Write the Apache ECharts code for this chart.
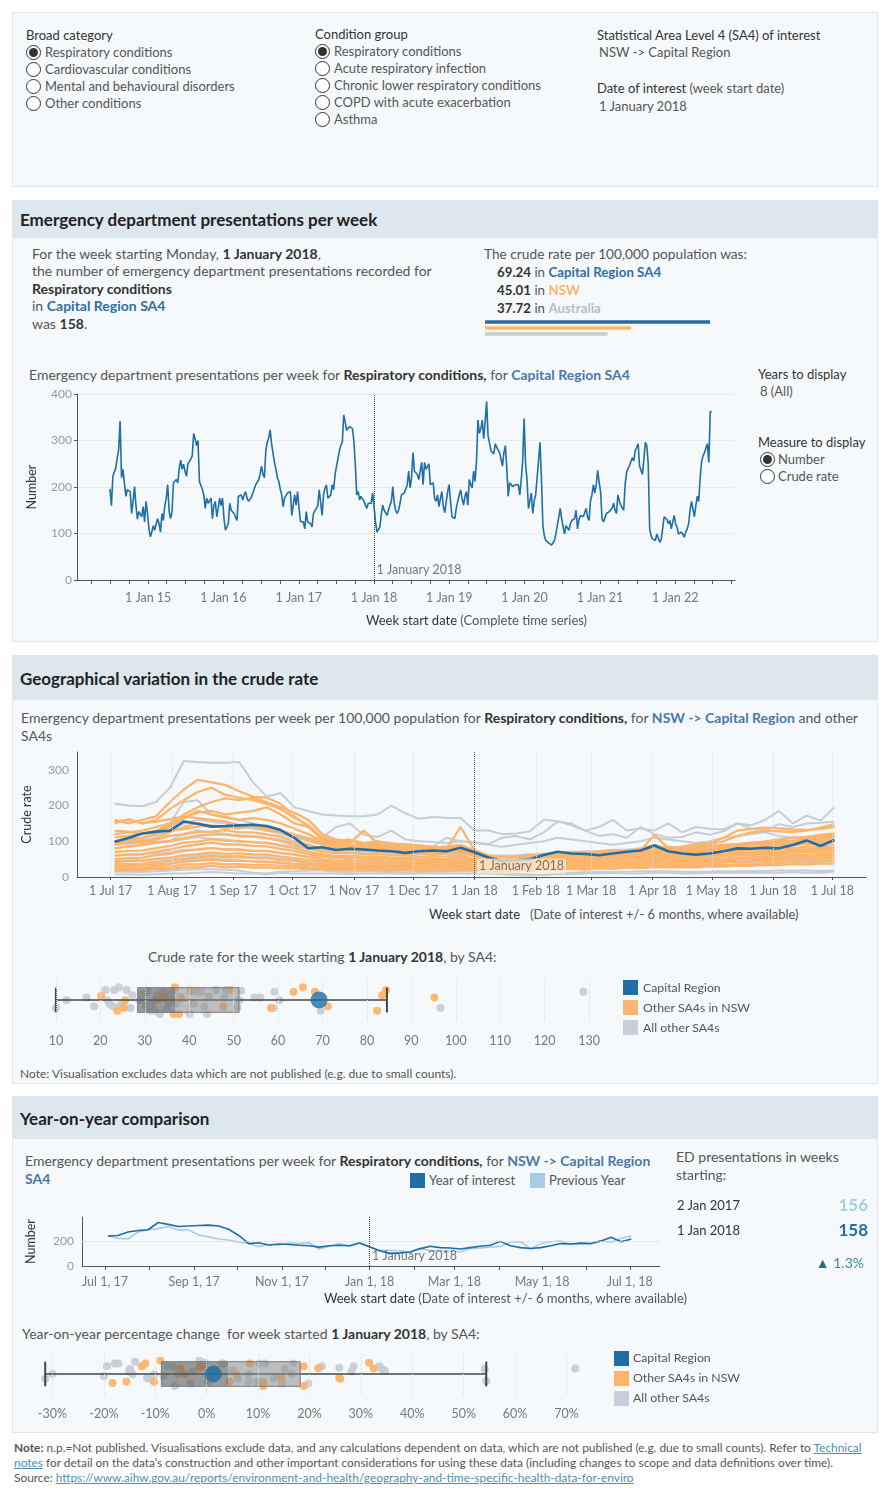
<!DOCTYPE html>
<html>
<head>
<meta charset="utf-8">
<title>Emergency department presentations - Capital Region SA4</title>
<script src="https://cdn.jsdelivr.net/npm/echarts@6/dist/echarts.min.js"></script>
<style>
  body { margin:0; background:#fff; font-family: Lato, "Noto Sans", sans-serif; }
  #page { position:relative; width:890px; height:1500px; overflow:hidden; }
  .panel { position:absolute; left:12px; width:866px; background:#f6f9fb; border:1px solid #e2e5e7; box-sizing:border-box; }
  .head { position:absolute; left:0; top:0; right:0; background:#dce7ee; }
  .head span { position:absolute; left:7px; font-size:17px; line-height:20px; font-weight:bold; color:#222; }
  .t { position:absolute; white-space:nowrap; font-size:13px; line-height:16px; color:#555; }
  .t.m { font-size:14px; }
  .t b { color:#333; }
  .dk { color:#333; }
  .blue { color:#2e6ea6; font-weight:bold; }
  .radio { position:absolute; width:13px; height:13px; border:1px solid #333; border-radius:50%; background:#fff; }
  .radio.on::after { content:''; position:absolute; left:2px; top:2px; width:9px; height:9px; border-radius:50%; background:#333; }
  .chart { position:absolute; }
  .sw { position:absolute; width:15px; height:15px; }
  .foot { position:absolute; left:14px; white-space:nowrap; font-size:11.9px; line-height:14px; color:#555; }
  .foot a { color:#4a90b8; text-decoration:underline; }
</style>
</head>
<body>
<div id="page">

  <!-- filters -->
  <div class="panel" style="top:12px;height:175px;"></div>
  <div class="t dk" style="left:26px;top:27px;">Broad category</div>
  <div class="radio on" style="left:26px;top:45px;"></div><div class="t" style="left:45px;top:44px;">Respiratory conditions</div>
  <div class="radio" style="left:26px;top:62px;"></div><div class="t" style="left:45px;top:61px;">Cardiovascular conditions</div>
  <div class="radio" style="left:26px;top:79px;"></div><div class="t" style="left:45px;top:78px;">Mental and behavioural disorders</div>
  <div class="radio" style="left:26px;top:96px;"></div><div class="t" style="left:45px;top:95px;">Other conditions</div>

  <div class="t dk" style="left:315px;top:26px;">Condition group</div>
  <div class="radio on" style="left:315px;top:44px;"></div><div class="t" style="left:334px;top:43px;">Respiratory conditions</div>
  <div class="radio" style="left:315px;top:61px;"></div><div class="t" style="left:334px;top:60px;">Acute respiratory infection</div>
  <div class="radio" style="left:315px;top:78px;"></div><div class="t" style="left:334px;top:77px;">Chronic lower respiratory conditions</div>
  <div class="radio" style="left:315px;top:95px;"></div><div class="t" style="left:334px;top:94px;">COPD with acute exacerbation</div>
  <div class="radio" style="left:315px;top:112px;"></div><div class="t" style="left:334px;top:111px;">Asthma</div>

  <div class="t dk" style="left:597px;top:27px;">Statistical Area Level 4 (SA4) of interest</div>
  <div class="t" style="left:599px;top:44px;">NSW -&gt; Capital Region</div>
  <div class="t" style="left:597px;top:80px;"><span class="dk">Date of interest</span> (week start date)</div>
  <div class="t" style="left:599px;top:98px;">1 January 2018</div>

  <!-- section 1 -->
  <div class="panel" style="top:200px;height:442px;"><div class="head" style="height:37px;"><span style="top:9px;">Emergency department presentations per week</span></div></div>
  <div class="t m" style="left:32px;top:246px;">For the week starting Monday, <b>1 January 2018</b>,</div>
  <div class="t m" style="left:32px;top:263px;">the number of emergency department presentations recorded for</div>
  <div class="t m" style="left:32px;top:281px;"><b>Respiratory conditions</b></div>
  <div class="t m" style="left:32px;top:298px;">in <span class="blue">Capital Region SA4</span></div>
  <div class="t m" style="left:32px;top:316px;">was <b>158</b>.</div>
  <div class="t" style="left:484px;top:246px;font-size:13.7px;">The crude rate per 100,000 population was:</div>
  <div class="t" style="left:497px;top:264px;font-size:13.3px;"><b>69.24</b> in <span class="blue">Capital Region SA4</span></div>
  <div class="t" style="left:497px;top:282px;font-size:13.3px;"><b>45.01</b> in <span style="color:#fdb46b;font-weight:bold;">NSW</span></div>
  <div class="t" style="left:497px;top:300px;font-size:13.3px;"><b>37.72</b> in <span style="color:#b8bdc2;font-weight:bold;">Australia</span></div>
  <div id="rates" class="chart" style="left:480px;top:316px;width:320px;height:24px;"></div>

  <div class="t m" style="left:29px;top:367px;">Emergency department presentations per week for <b>Respiratory conditions,</b> for <span style="color:#4a78a8;font-weight:bold;">Capital Region SA4</span></div>
  <div class="t dk" style="left:758px;top:366px;">Years to display</div>
  <div class="t" style="left:760px;top:383px;">8 (All)</div>
  <div class="t dk" style="left:758px;top:434px;">Measure to display</div>
  <div class="radio on" style="left:760px;top:452px;"></div><div class="t" style="left:778px;top:451px;">Number</div>
  <div class="radio" style="left:760px;top:469px;"></div><div class="t" style="left:778px;top:468px;">Crude rate</div>
  <div id="c1" class="chart" style="left:0;top:385px;width:890px;height:255px;"></div>
  <div class="t" style="left:366px;top:612px;"><span class="dk">Week start date</span> (Complete time series)</div>

  <!-- section 2 -->
  <div class="panel" style="top:655px;height:429px;"><div class="head" style="height:44px;"><span style="top:13px;">Geographical variation in the crude rate</span></div></div>
  <div class="t m" style="left:21px;top:710px;">Emergency department presentations per week per 100,000 population for <b>Respiratory conditions,</b> for <span style="color:#4a78a8;font-weight:bold;">NSW -&gt; Capital Region</span> and other</div>
  <div class="t m" style="left:21px;top:728px;">SA4s</div>
  <div id="c2" class="chart" style="left:0;top:745px;width:890px;height:160px;"></div>
  <div class="t" style="left:429px;top:906px;"><span class="dk">Week start date</span>&nbsp;&nbsp; (Date of interest +/- 6 months, where available)</div>

  <div class="t m" style="left:148px;top:949px;">Crude rate for the week starting <b>1 January 2018</b>, by SA4:</div>
  <div id="c4" class="chart" style="left:0;top:970px;width:640px;height:85px;"></div>
  <div class="sw" style="left:623px;top:980px;background:#1f6ea8;"></div><div class="t" style="left:643px;top:980px;font-size:12.3px;">Capital Region</div>
  <div class="sw" style="left:623px;top:1000px;background:#fdb46b;"></div><div class="t" style="left:643px;top:1000px;font-size:12.3px;">Other SA4s in NSW</div>
  <div class="sw" style="left:623px;top:1020px;background:#c8cfd8;"></div><div class="t" style="left:643px;top:1020px;font-size:12.3px;">All other SA4s</div>
  <div class="t" style="left:20px;top:1066px;font-size:12px;">Note: Visualisation excludes data which are not published (e.g. due to small counts).</div>

  <!-- section 3 -->
  <div class="panel" style="top:1096px;height:337px;"><div class="head" style="height:42px;"><span style="top:12px;">Year-on-year comparison</span></div></div>
  <div class="t m" style="left:25px;top:1153px;">Emergency department presentations per week for <b>Respiratory conditions,</b> for <span style="color:#4a78a8;font-weight:bold;">NSW -&gt; Capital Region</span></div>
  <div class="t m" style="left:25px;top:1171px;"><span style="color:#4a78a8;font-weight:bold;">SA4</span></div>
  <div class="sw" style="left:410px;top:1173px;background:#1f6ea8;"></div><div class="t" style="left:429px;top:1172px;">Year of interest</div>
  <div class="sw" style="left:530px;top:1173px;background:#a6cde8;"></div><div class="t" style="left:549px;top:1172px;">Previous Year</div>
  <div id="c3" class="chart" style="left:0;top:1205px;width:680px;height:100px;"></div>
  <div class="t" style="left:324px;top:1290px;"><span class="dk">Week start date</span> (Date of interest +/- 6 months, where available)</div>

  <div class="t m" style="left:676px;top:1149px;">ED presentations in weeks</div>
  <div class="t m" style="left:676px;top:1167px;">starting:</div>
  <div class="t dk" style="left:677px;top:1197px;">2 Jan 2017</div>
  <div class="t" style="left:800px;width:68px;text-align:right;top:1195px;font-size:17px;line-height:20px;font-weight:bold;color:#a6cde8;">156</div>
  <div class="t dk" style="left:677px;top:1222px;">1 Jan 2018</div>
  <div class="t" style="left:800px;width:68px;text-align:right;top:1220px;font-size:17px;line-height:20px;font-weight:bold;color:#1f6ea8;">158</div>
  <div class="t m" style="left:780px;width:84px;text-align:right;top:1255px;color:#3a8a99;"><span style="color:#1f6f7f;">&#9650;</span> 1.3%</div>

  <div class="t m" style="left:22px;top:1326px;">Year-on-year percentage change &nbsp;for week started <b>1 January 2018</b>, by SA4:</div>
  <div id="c5" class="chart" style="left:0;top:1344px;width:640px;height:80px;"></div>
  <div class="sw" style="left:614px;top:1351px;background:#1f6ea8;"></div><div class="t" style="left:633px;top:1350px;font-size:12.3px;">Capital Region</div>
  <div class="sw" style="left:614px;top:1371px;background:#fdb46b;"></div><div class="t" style="left:633px;top:1370px;font-size:12.3px;">Other SA4s in NSW</div>
  <div class="sw" style="left:614px;top:1391px;background:#c8cfd8;"></div><div class="t" style="left:633px;top:1390px;font-size:12.3px;">All other SA4s</div>

  <!-- footnote -->
  <div class="foot" style="top:1441px;"><b>Note:</b> n.p.=Not published. Visualisations exclude data, and any calculations dependent on data, which are not published (e.g. due to small counts). Refer to <a>Technical</a></div>
  <div class="foot" style="top:1456px;"><a>notes</a> for detail on the data’s construction and other important considerations for using these data (including changes to scope and data definitions over time).</div>
  <div class="foot" style="top:1471px;">Source: <a>https://www.aihw.gov.au/reports/environment-and-health/geography-and-time-specific-health-data-for-enviro</a></div>
</div>

<script>
const DAY = 86400000;
const MON = ['Jan','Feb','Mar','Apr','May','Jun','Jul','Aug','Sep','Oct','Nov','Dec'];

// crude rate per 100,000 for the week of interest
const rateAreas = ['Capital Region SA4', 'NSW', 'Australia'];
const rateValues = [69.24, 45.01, 37.72];

// weekly ED presentations, Capital Region SA4, first week starts Mon 30 Jun 2014
const weeklyStart = Date.UTC(2014, 5, 30);
const weeklyNumber = [
  196,160,223,232,240,262,280,342,220,238,209,180,194,
  194,190,143,169,201,160,131,147,143,136,158,125,169,
  143,110,93,103,117,107,120,132,121,103,143,128,160,
  176,205,147,132,147,209,205,216,209,240,258,238,249,
  234,223,249,255,260,267,315,304,289,300,212,209,195,
  183,154,176,165,169,176,132,160,169,136,154,176,160,
  176,132,107,114,121,165,150,150,143,139,128,180,183,
  183,172,183,190,176,169,165,178,187,183,205,209,215,
  227,245,227,220,278,296,305,323,293,296,253,238,220,
  212,195,183,158,176,172,187,183,190,139,161,183,161,
  190,156,126,128,125,110,147,125,125,121,114,143,147,
  154,160,194,198,139,183,198,204,176,180,183,205,194,
  227,245,249,278,290,296,355,340,322,326,330,334,326,
  300,249,183,190,172,180,176,169,165,154,165,169,165,
  187,158,125,103,107,114,140,161,150,147,139,150,161,
  169,201,165,150,143,150,165,183,180,187,183,205,234,
  198,220,274,234,234,227,216,216,253,205,253,238,238,
  250,205,207,209,175,169,183,158,175,190,158,145,143,
  190,205,169,136,134,132,155,169,165,194,175,161,180,
  190,161,216,205,198,234,212,256,344,315,325,344,304,
  340,384,311,295,278,275,271,293,285,289,274,260,245,
  274,289,240,180,209,205,201,203,205,201,205,183,215,
  256,347,250,216,154,170,187,143,170,183,187,256,296,
  220,117,95,85,82,80,77,75,74,85,99,117,135,
  154,132,115,99,117,112,107,120,128,128,132,150,110,
  130,139,136,136,145,154,135,128,170,183,205,187,205,
  236,210,190,132,125,121,143,139,147,147,155,165,150,
  143,183,170,161,155,150,205,231,240,245,255,263,256,
  278,285,293,245,242,227,260,296,289,250,110,95,88,
  85,85,99,90,81,88,110,136,139,130,121,128,110,
  125,139,120,114,99,103,103,98,92,103,110,121,150,
  169,165,136,160,180,169,220,255,267,274,274,293,253,
  362,362
];
const weeklyDates = weeklyNumber.map((v, i) => weeklyStart + i * 7 * DAY);

// +/- 6 months window: weeks 3 Jul 2017 .. 2 Jul 2018 (index 157..209 of the weekly series)
const windowFrom = 157, windowTo = 210;
const windowDates = weeklyDates.slice(windowFrom, windowTo);
const yearOfInterest = weeklyNumber.slice(windowFrom, windowTo);
const previousYear = weeklyNumber.slice(windowFrom - 52, windowTo - 52);

// crude rate per 100,000, Capital Region
const capitalRate = [99,109.1,121.8,127.1,129.7,155.6,149.0,141.1,142.8,144.6,146.3,142.8,131.4,109.1,80.2,83.3,75.4,78.9,77.1,74.1,72.3,67.5,72.3,74.1,72.3,81.9,69.2,54.8,45.1,46.9,50.0,61.3,70.5,65.7,64.4,60.9,65.7,70.5,74.1,88.1,72.3,65.7,62.7,65.7,72.3,80.2,78.9,81.9,80.2,89.8,102.5,86.8,104.0];

// crude rate, other SA4s in NSW
const nswRates = [
  [160,150,160,170,210,245,272,265,258,240,225,222,205,170,140,105,98,100,92,88,85,90,82,78,80,84,72,58,52,56,58,62,60,64,66,70,68,74,72,80,84,80,86,92,100,115,125,130,128,126,130,138,148],
  [150,162,150,160,190,215,238,250,230,222,215,205,190,165,145,110,100,105,95,92,90,85,88,82,86,90,75,60,55,58,60,64,66,70,68,72,75,72,80,90,78,85,92,95,110,130,135,138,136,133,132,135,140],
  [120,125,130,140,150,175,195,210,220,215,222,210,195,180,160,120,105,100,95,100,90,92,88,85,80,85,70,55,50,52,55,58,60,58,62,65,62,68,70,75,70,72,78,80,85,90,95,100,105,110,112,118,122],
  [110,115,120,130,145,165,180,185,175,180,185,195,175,150,140,110,100,95,130,95,92,90,85,80,84,86,70,55,52,55,58,60,62,64,66,62,66,70,68,72,74,70,76,80,84,90,92,96,100,102,105,108,115],
  [100,105,110,120,140,165,185,175,168,160,165,160,150,135,120,100,95,90,90,88,84,80,82,78,80,140,75,60,56,58,60,62,64,66,64,68,70,72,74,118,80,78,84,86,90,92,96,98,104,100,110,112,118],
  [155,160,150,155,162,170,165,160,156,145,142,130,126,115,108,95,92,86,88,84,82,80,77,76,79,75,68,55,50,53,52,57,56,61,60,66,63,69,67,74,70,77,74,81,79,85,83,90,88,95,92,98,100],
  [90,96,101,108,126,140,151,144,141,136,143,134,129,119,109,95,91,84,83,79,78,76,71,70,75,72,64,50,45,49,48,53,52,57,56,61,60,65,64,69,73,68,75,78,79,85,87,91,90,95,94,99,101],
  [130,127,121,124,131,134,141,144,137,143,147,139,131,117,104,91,84,81,77,77,73,72,69,68,71,72,59,48,44,47,47,51,52,53,56,57,61,61,65,65,69,69,73,73,77,79,83,85,89,89,93,93,97],
  [80,86,89,96,101,109,116,119,119,114,113,109,101,89,81,71,67,67,64,65,61,61,57,57,58,61,51,45,41,45,45,49,49,53,53,57,57,61,61,65,65,63,69,69,73,73,77,77,81,81,85,85,89],
  [70,73,74,81,87,96,99,106,101,101,97,96,87,81,71,63,59,59,57,57,54,55,51,51,51,56,47,41,37,41,41,45,45,49,49,53,53,56,55,59,59,59,61,65,65,69,69,73,73,77,77,81,81],
  [60,63,64,71,77,86,91,96,91,91,87,86,79,73,64,57,54,55,51,51,49,49,45,46,45,49,41,37,33,37,37,41,41,45,45,49,49,53,53,56,55,56,57,61,61,65,65,69,69,73,73,76,75],
  [50,53,54,61,65,73,77,81,77,77,73,73,67,63,55,49,46,47,44,45,42,43,39,41,41,45,37,35,31,35,35,39,39,43,43,47,45,49,49,53,51,51,53,57,57,61,61,65,65,69,69,71,71],
  [42,45,45,51,54,61,64,69,65,66,63,63,57,53,47,43,39,41,37,39,36,37,34,35,35,39,33,31,27,31,31,35,35,39,39,41,41,45,44,47,45,46,47,51,51,55,55,59,59,63,61,65,65],
  [35,37,37,43,45,51,54,59,55,56,53,53,47,45,39,37,34,35,32,33,31,32,29,31,30,33,29,27,24,27,27,31,31,35,34,37,37,41,39,43,41,41,43,46,45,49,49,53,53,56,55,59,59],
  [28,31,31,35,37,43,45,49,45,46,43,43,39,37,33,31,29,30,27,29,26,27,25,26,25,29,25,25,21,25,24,27,27,31,30,33,33,36,35,38,37,37,37,41,40,43,43,47,47,51,49,53,53],
  [22,25,24,29,29,35,35,39,35,36,33,34,31,31,27,26,24,25,23,24,22,23,21,23,22,25,21,21,18,21,21,24,23,26,25,28,27,30,29,32,31,31,31,34,33,36,35,39,39,42,41,44,44],
  [100,97,96,104,116,119,126,127,131,125,125,119,113,99,91,79,79,75,76,71,71,67,67,63,67,69,59,47,46,47,51,53,57,57,61,61,67,67,71,71,77,73,79,81,87,87,93,94,99,99,105,105,111],
  [18,20,19,23,23,27,27,31,27,29,26,27,24,25,22,22,20,21,19,21,18,20,17,19,18,21,18,19,16,19,18,21,20,23,21,24,23,26,25,28,27,27,27,30,29,32,31,34,33,36,35,38,37]
];

// crude rate, all other SA4s
const otherRates = [
  [205,200,198,210,250,325,322,320,320,322,265,225,235,195,185,175,172,170,170,175,200,178,163,168,166,165,130,130,120,122,128,160,157,145,130,140,160,130,136,130,150,125,140,135,133,150,145,160,185,150,172,158,195],
  [95,100,105,120,150,210,215,175,165,160,150,140,125,110,105,110,140,150,118,112,130,105,100,98,95,100,98,92,110,115,105,125,155,150,130,115,120,110,140,120,110,112,125,118,128,150,135,130,148,140,150,152,155],
  [100,105,110,115,130,150,160,155,150,140,135,130,120,110,100,90,88,86,92,100,95,90,88,85,110,100,95,90,85,90,95,100,110,105,100,95,90,95,100,110,105,100,95,100,110,115,120,125,115,110,112,118,120],
  [80,86,89,96,99,106,111,107,106,99,99,94,91,84,81,74,73,69,71,67,67,64,65,61,65,65,63,57,56,57,61,61,65,65,69,69,73,73,77,77,81,77,83,83,87,87,91,91,95,91,96,97,101],
  [60,63,63,67,69,76,77,81,77,77,73,73,67,63,57,56,53,53,51,51,49,49,47,47,47,51,45,43,39,43,43,47,47,51,49,53,53,56,55,59,57,57,59,63,61,65,65,69,69,71,71,73,73],
  [45,47,47,51,51,57,59,63,59,59,55,56,51,49,44,43,41,41,39,41,37,39,37,37,37,41,37,36,32,36,35,39,39,41,41,43,43,46,45,47,47,47,47,51,49,53,53,56,55,57,57,59,59],
  [15,15,14,16,18,20,22,22,20,18,12,10,15,16,18,18,15,14,16,15,14,13,14,15,15,16,16,15,14,10,8,5,10,12,13,14,14,15,16,16,16,15,14,15,16,16,17,17,18,18,18,17,18],
  [8,7,6,8,10,10,12,14,12,10,10,8,12,10,10,10,10,8,10,10,10,9,10,10,10,10,10,10,8,5,4,6,8,8,10,10,12,10,10,12,12,10,10,12,12,12,12,12,12,14,12,12,15],
  [30,33,33,37,39,45,49,53,49,47,44,43,41,37,35,33,31,31,30,30,28,29,27,28,28,31,28,27,24,26,26,29,29,31,31,33,33,35,35,37,37,37,38,41,40,43,42,45,45,47,46,48,48],
  [90,93,95,99,101,121,131,125,121,117,115,109,105,94,88,81,80,77,76,74,74,71,70,69,72,73,68,61,60,61,64,65,68,69,72,73,76,77,80,81,84,81,86,87,90,91,95,97,100,101,104,104,108]
];

// crude rate by SA4, week of 1 Jan 2018 (inNsw: 1 = other SA4 in NSW, jitter = Tableau jitter field)
const sa4Rate =   [10.0,12.4,16.9,18.6,20.2,21.2,21.6,22.0,22.9,23.1,23.8,24.2,24.6,25.1,25.3,25.6,25.9,26.8,27.2,28.9,29.6,30.2,30.6,31.3,31.7,32.2,32.4,32.8,33.2,33.4,33.9,34.1,34.5,35.0,35.4,35.6,36.0,36.5,36.7,36.8,37.1,37.7,38.0,38.2,40.1,40.4,41.0,41.8,42.7,43.4,44.0,44.4,46.0,47.7,48.0,48.3,49.4,50.9,51.3,51.7,54.7,56.0,58.4,59.0,59.2,60.3,63.5,65.6,68.3,69.6,71.2,82.3,83.4,84.3,95.2,96.6,128.7];
const sa4RateNsw = [0,0,0,0,1,0,0,0,0,0,1,0,0,0,1,1,0,0,0,0,0,0,0,0,0,0,0,0,1,0,1,0,1,0,0,0,0,1,0,1,0,1,0,1,0,1,0,0,0,0,0,0,0,1,0,0,1,0,0,0,0,0,1,0,0,0,1,1,1,0,1,1,1,1,1,0,0];
const sa4RateJitter = [-0.53,-0.02,0.16,-0.41,0.28,0.67,-0.02,-0.25,-0.41,0.67,-0.71,0.85,-0.30,-0.41,-0.53,-0.02,0.67,-0.53,0.32,-0.02,0.44,-0.37,0.55,-0.71,-0.25,-0.71,-0.02,0.32,0.09,-0.94,0.16,0.55,0.16,-0.60,-0.25,0.44,0.09,-0.94,0.67,0.85,-0.25,-0.94,0.21,0.09,-0.94,0.62,-0.25,0.55,0.55,-0.44,-0.94,0.21,0.67,-0.44,0.16,0.67,0.67,-0.48,-0.02,0.62,0.16,0.16,-0.53,-0.53,0.55,-0.02,0.55,0.85,0.55,-0.71,-0.41,-0.71,0.32,0.67,0.16,-0.53,0.55];
const rateBox = [10, 28.4, 36.8, 51.2, 84.5];   // min, q1, median, q3, max
const capitalRateOfInterest = 69.24;

// year-on-year % change by SA4, week of 1 Jan 2018
const sa4Change = [-31.4,-30.0,-20.0,-18.3,-19.4,-17.9,-17.2,-15.6,-15.1,-14.9,-14.4,-13.9,-12.6,-11.6,-11.2,-11.9,-10.2,-10.2,-9.0,-8.4,-7.6,-6.2,-6.5,-5.6,-5.1,-4.2,-3.2,-2.6,-1.4,-1.4,-0.4,-0.9,0.2,1.0,3.0,3.4,4.5,5.0,5.8,6.1,8.2,8.2,8.4,9.8,10.3,11.0,11.0,11.4,13.1,14.5,14.7,15.2,16.6,16.8,18.9,18.9,19.8,21.7,22.4,25.8,26.0,25.8,28.2,28.6,31.6,32.5,33.6,34.1,34.7,54.4,54.1,71.7];
const sa4ChangeNsw = [0,0,0,1,0,0,0,1,0,0,0,0,1,0,0,1,0,1,1,0,0,0,0,0,1,1,0,0,1,0,0,1,0,0,0,0,1,0,1,0,0,0,1,0,0,1,1,0,0,1,0,0,0,0,1,1,0,1,0,1,1,0,0,0,1,1,0,0,0,0,0,0];
const sa4ChangeJitter = [-0.31,0.02,-0.14,-0.60,0.51,0.70,0.70,-0.51,0.17,0.34,-0.02,0.82,0.51,-0.27,-0.31,0.70,-0.02,-0.51,0.89,-0.14,0.51,-0.80,0.46,-0.02,0.39,-0.02,-0.63,0.17,0.41,0.89,0.75,0.51,-0.51,0.10,0.70,0.70,-0.51,0.27,-0.02,-0.31,-0.51,-0.02,0.70,-0.51,0.70,-0.80,-0.51,0.70,-0.27,-0.27,-0.63,0.34,0.02,0.70,-0.80,0.51,-0.63,0.39,0.51,-0.27,-0.31,0.41,0.17,0.51,0.75,0.36,0.51,0.34,0.22,-0.46,0.34,0.36];
const changeBox = [-31.4, -8.8, 4.2, 18.2, 54.4];
const capitalChange = 1.3;

// axis ticks
const yearTicks = [2015,2016,2017,2018,2019,2020,2021,2022].map(y => Date.UTC(y, 0, 1));
const monthTicks = [[2017,6],[2017,7],[2017,8],[2017,9],[2017,10],[2017,11],[2018,0],[2018,1],[2018,2],[2018,3],[2018,4],[2018,5],[2018,6]].map(d => Date.UTC(d[0], d[1], 1));
const yoyLabelTicks = [[2017,6],[2017,8],[2017,10],[2018,0],[2018,2],[2018,4],[2018,6]].map(d => Date.UTC(d[0], d[1], 1));
const rateTicks = [10,20,30,40,50,60,70,80,90,100,110,120,130];
const changeTicks = [-30,-20,-10,0,10,20,30,40,50,60,70];
const dateOfInterest = Date.UTC(2018, 0, 1);

const BLUE = '#1f6ea8', ORANGE = '#fdb46b', GREY = '#c6cdd6', LIGHTBLUE = '#a6cde8';
const FONT = 'Lato';

function dMY(v) { const d = new Date(v); return d.getUTCDate() + ' ' + MON[d.getUTCMonth()] + ' ' + String(d.getUTCFullYear()).slice(2); }
function MDY(v) { const d = new Date(v); return MON[d.getUTCMonth()] + ' ' + d.getUTCDate() + ', ' + String(d.getUTCFullYear()).slice(2); }

const quarterTicks = [];
for (let y = 2014; y <= 2022; y++) for (let m = 0; m < 12; m += 3) quarterTicks.push(Date.UTC(y, m, 1));

function dateLabel(offsetY, bg) {
  return {
    type: 'scatter', data: [[dateOfInterest, 0]], symbolSize: 1, itemStyle: { color: 'rgba(0,0,0,0)' },
    silent: true, clip: false, z: 10,
    label: { show: true, position: [3, offsetY], formatter: '1 January 2018', color: '#555', fontSize: 12.5, fontFamily: FONT,
      backgroundColor: bg || 'transparent', padding: bg ? [1, 2] : 0 }
  };
}

// dates are drawn on value axes holding the week start timestamps
function dateAxis(min, max, tickVals, labelVals, fmt, margin, tickLen) {
  return {
    type: 'value', min: min, max: max,
    axisLine: { lineStyle: { color: '#555' } },
    axisTick: { show: true, customValues: tickVals, length: tickLen, lineStyle: { color: '#555' } },
    axisLabel: { customValues: labelVals, formatter: v => fmt(v), color: '#777', fontSize: 12.5, margin: margin, showMinLabel: true, showMaxLabel: true },
    splitLine: { show: false }
  };
}

// ---- crude rate bars
const rates = echarts.init(document.getElementById('rates'));
rates.setOption({
  animation: false,
  grid: { left: 5, top: 3, width: 300, height: 18 },
  xAxis: { type: 'value', min: 0, max: 92.3, show: false },
  yAxis: { type: 'category', data: rateAreas, inverse: true, show: false },
  series: [{ type: 'bar', barWidth: 3.5, data: rateValues.map((v, i) => ({ value: v, itemStyle: { color: [BLUE, ORANGE, '#c8ccd2'][i] } })) }]
});

// ---- chart 1: complete weekly time series
const c1 = echarts.init(document.getElementById('c1'));
c1.setOption({
  animation: false,
  textStyle: { fontFamily: FONT },
  grid: { left: 77, top: 9, right: 155, bottom: 60 },
  xAxis: dateAxis(Date.UTC(2014, 0, 21), Date.UTC(2022, 9, 18), quarterTicks, yearTicks, dMY, 11, 4),
  yAxis: {
    type: 'value', min: 0, max: 400, interval: 100,
    name: 'Number', nameLocation: 'middle', nameGap: 39, nameTextStyle: { color: '#333', fontSize: 12.5 },
    axisLine: { show: true, lineStyle: { color: '#555' } },
    axisTick: { show: true, length: 3, lineStyle: { color: '#555' } },
    axisLabel: { color: '#999', fontSize: 12, margin: 5 },
    splitLine: { lineStyle: { type: 'dotted', color: '#d9dcde' } }
  },
  series: [
    {
      type: 'line', showSymbol: false, silent: true,
      data: weeklyDates.map((d, i) => [d, weeklyNumber[i]]),
      lineStyle: { color: BLUE, width: 1.6 },
      markLine: { symbol: 'none', silent: true, label: { show: false }, lineStyle: { type: 'dotted', color: '#444', width: 1 }, data: [{ xAxis: dateOfInterest }] }
    },
    dateLabel(-16)
  ]
});

// ---- chart 2: crude rate by SA4
const c2series = [];
otherRates.forEach((arr, k) => {
  const s = { type: 'line', showSymbol: false, silent: true, data: windowDates.map((d, i) => [d, arr[i]]), lineStyle: { color: GREY, width: 2 } };
  if (k === 0) s.markLine = { symbol: 'none', silent: true, label: { show: false }, lineStyle: { type: 'dotted', color: '#dde1e4', width: 1 }, data: monthTicks.map(v => ({ xAxis: v })) };
  c2series.push(s);
});
nswRates.forEach(arr => {
  c2series.push({ type: 'line', showSymbol: false, silent: true, data: windowDates.map((d, i) => [d, arr[i]]), lineStyle: { color: ORANGE, width: 2.3 } });
});
c2series.push({
  type: 'line', showSymbol: false, silent: true, data: windowDates.map((d, i) => [d, capitalRate[i]]),
  lineStyle: { color: BLUE, width: 2.6 },
  markLine: { symbol: 'none', silent: true, label: { show: false }, lineStyle: { type: 'dotted', color: '#555', width: 1 }, data: [{ xAxis: dateOfInterest }] }
});
c2series.push(dateLabel(-18, 'rgba(255,236,214,0.9)'));

const c2 = echarts.init(document.getElementById('c2'));
c2.setOption({
  animation: false,
  textStyle: { fontFamily: FONT },
  grid: { left: 77, top: 7, right: 24, bottom: 28 },
  xAxis: dateAxis(Date.UTC(2017, 5, 14), Date.UTC(2018, 6, 18), monthTicks, monthTicks, dMY, 7, 3),
  yAxis: {
    type: 'value', min: 0, max: 350,
    name: 'Crude rate', nameLocation: 'middle', nameGap: 44, nameTextStyle: { color: '#333', fontSize: 12.5 },
    axisLine: { show: true, lineStyle: { color: '#555' } },
    axisTick: { show: false },
    axisLabel: { customValues: [0, 100, 200, 300], color: '#999', fontSize: 12, margin: 8 },
    splitLine: { show: false }
  },
  series: c2series
});

// ---- chart 3: year of interest vs previous year
const c3 = echarts.init(document.getElementById('c3'));
c3.setOption({
  animation: false,
  textStyle: { fontFamily: FONT },
  grid: { left: 82, top: 12, right: 20, bottom: 39 },
  xAxis: dateAxis(Date.UTC(2017, 5, 15), Date.UTC(2018, 6, 22), monthTicks, yoyLabelTicks, MDY, 9, 4),
  yAxis: {
    type: 'value', min: 0, max: 400,
    name: 'Number', nameLocation: 'middle', nameGap: 45, nameTextStyle: { color: '#333', fontSize: 12.5 },
    axisLine: { show: true, lineStyle: { color: '#555' } },
    axisTick: { show: false },
    axisLabel: { customValues: [0, 200], color: '#999', fontSize: 12, margin: 8 },
    splitLine: { show: false }
  },
  series: [
    {
      type: 'line', showSymbol: false, silent: true, data: windowDates.map((d, i) => [d, previousYear[i]]),
      lineStyle: { color: LIGHTBLUE, width: 1.6 },
      markLine: { symbol: 'none', silent: true, label: { show: false }, lineStyle: { type: 'dotted', color: '#d5d9dc', width: 1 }, data: [{ yAxis: 200 }] }
    },
    {
      type: 'line', showSymbol: false, silent: true, data: windowDates.map((d, i) => [d, yearOfInterest[i]]),
      lineStyle: { color: BLUE, width: 1.6 },
      markLine: { symbol: 'none', silent: true, label: { show: false }, lineStyle: { type: 'dotted', color: '#444', width: 1 }, data: [{ xAxis: dateOfInterest }] }
    },
    dateLabel(-16)
  ]
});

// ---- box plots with jittered SA4 points
function boxChart(id, o) {
  const chart = echarts.init(document.getElementById(id));
  const pts = (flag) => o.values.map((v, i) => [v, o.jitter[i], o.nsw[i]]).filter(p => p[2] === flag);
  chart.setOption({
    animation: false,
    textStyle: { fontFamily: FONT },
    grid: o.grid,
    xAxis: {
      type: 'value', min: o.min, max: o.max,
      axisLine: { show: false }, axisTick: { show: false }, splitLine: { show: false },
      axisLabel: { customValues: o.ticks, formatter: o.fmt, color: '#777', fontSize: 12.5, margin: o.margin }
    },
    yAxis: { type: 'value', min: -1.4, max: 1.4, show: false },
    series: [
      {
        type: 'scatter', clip: false, silent: true, symbolSize: 8, data: pts(0), z: 2,
        itemStyle: { color: GREY, opacity: 0.95 },
        markLine: { symbol: 'none', silent: true, label: { show: false }, lineStyle: { type: 'dotted', color: '#dde1e4', width: 1 }, data: o.ticks.map(v => ({ xAxis: v })) }
      },
      { type: 'scatter', clip: false, silent: true, symbolSize: 8, data: pts(1), z: 2, itemStyle: { color: ORANGE, opacity: 0.95 } },
      {
        type: 'custom', silent: true, data: [o.box], z: 3,
        renderItem: function (params, api) {
          const y0 = api.coord([0, 0])[1], yt = api.coord([0, 0.82])[1], yb = api.coord([0, -0.82])[1];
          const x = [0, 1, 2, 3, 4].map(k => api.coord([api.value(k), 0])[0]);
          return { type: 'group', children: [
            { type: 'line', shape: { x1: x[0], y1: y0, x2: x[4], y2: y0 }, style: { stroke: '#444', lineWidth: 1.5 } },
            { type: 'line', shape: { x1: x[0], y1: yt, x2: x[0], y2: yb }, style: { stroke: '#444', lineWidth: 2 } },
            { type: 'line', shape: { x1: x[4], y1: yt, x2: x[4], y2: yb }, style: { stroke: '#444', lineWidth: 2 } },
            { type: 'rect', shape: { x: x[1], y: yt, width: x[2] - x[1], height: yb - yt }, style: { fill: 'rgba(95,95,95,0.62)' } },
            { type: 'rect', shape: { x: x[2], y: yt, width: x[3] - x[2], height: yb - yt }, style: { fill: 'rgba(140,140,140,0.55)' } },
            { type: 'rect', shape: { x: x[1], y: yt, width: x[3] - x[1], height: yb - yt }, style: { fill: 'none', stroke: '#777', lineWidth: 1 } }
          ] };
        }
      },
      { type: 'scatter', clip: false, silent: true, symbolSize: 17, data: [[o.capital, 0]], itemStyle: { color: BLUE }, z: 5 }
    ]
  });
}

boxChart('c4', {
  values: sa4Rate, nsw: sa4RateNsw, jitter: sa4RateJitter, box: rateBox, capital: capitalRateOfInterest,
  min: 8, max: 132, ticks: rateTicks, fmt: v => String(v), margin: 13,
  grid: { left: 47, top: 9, width: 551, height: 42 }
});
boxChart('c5', {
  values: sa4Change, nsw: sa4ChangeNsw, jitter: sa4ChangeJitter, box: changeBox, capital: capitalChange,
  min: -33, max: 74, ticks: changeTicks, fmt: v => v + '%', margin: 12,
  grid: { left: 37, top: 9, width: 550, height: 42 }
});
</script>
</body>
</html>
